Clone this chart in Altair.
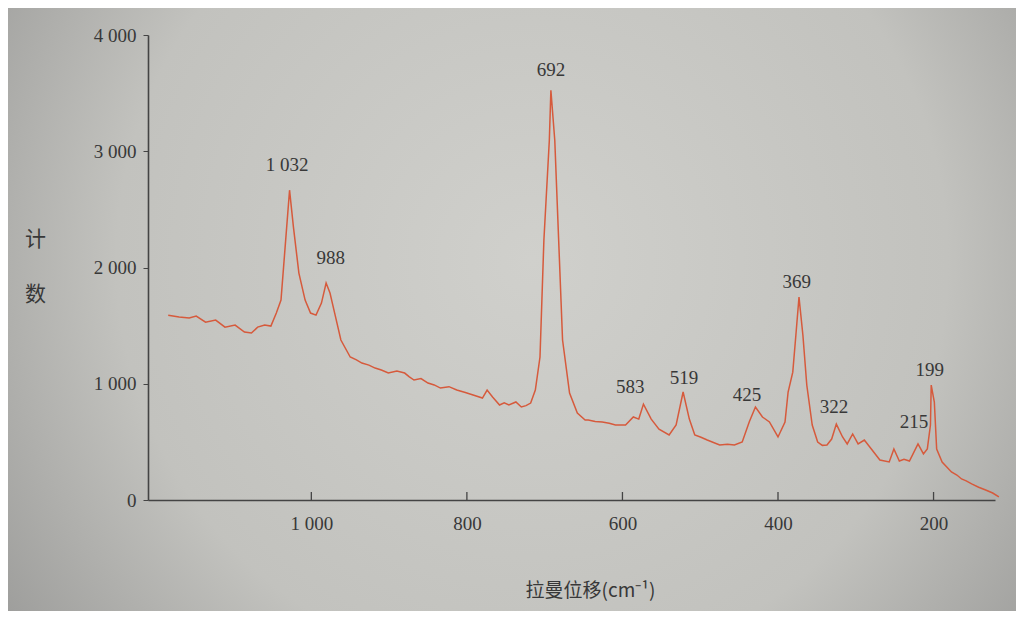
import altair as alt
import pandas as pd

# Raman shift (cm^-1) and counts
shift = [1184, 1170, 1157, 1148, 1136, 1123, 1111, 1098, 1086, 1077, 1069, 1060, 1052, 1045, 1039,
         1033, 1028, 1023, 1016, 1008, 1001, 994, 987, 981, 976, 970, 962, 950, 942, 935, 926, 918,
         910, 901, 890, 880, 874, 868, 859, 850, 842, 834, 823, 813, 802, 792, 780, 774, 767, 758,
         752, 746, 737, 730, 724, 718, 712, 706, 701, 694, 692,
         687, 682, 677, 668, 658, 648, 644, 635, 626, 617, 609, 596, 586, 579, 573, 563, 553, 540,
         531, 522, 514, 507, 499, 491, 483, 475, 465, 456, 446, 437, 429, 420, 411, 400, 391, 387,
         381, 377, 373, 368, 363, 356, 349, 343, 337, 331, 325, 317, 311, 304, 297, 289, 280, 269,
         257, 251, 244, 238, 231, 220, 213, 208, 204, 203, 199, 196, 189, 177, 170, 164, 158, 151,
         142, 133, 124, 116]
counts = [1590, 1574, 1565, 1582, 1530, 1548, 1487, 1505, 1445, 1436, 1487, 1505, 1496, 1608, 1720,
          2235, 2665, 2347, 1952, 1720, 1608, 1590, 1694, 1866, 1780, 1608, 1376, 1230, 1205, 1178,
          1160, 1135, 1118, 1092, 1110, 1092, 1060, 1032, 1045, 1006, 990, 963, 975, 946, 925, 903,
          877, 946, 886, 817, 835, 817, 843, 800, 812, 834, 946, 1230, 2235, 3095, 3525,
          3095, 2235, 1376, 920, 748, 688, 688, 675, 671, 660, 645, 645, 714, 696, 825, 696, 610,
          559, 645, 929, 696, 559, 540, 516, 495, 473, 480, 473, 499, 671, 800, 714, 671, 542, 671,
          929, 1100, 1419, 1745, 1419, 989, 645, 499, 470, 473, 524, 653, 542, 482, 568, 482, 516,
          439, 344, 327, 439, 335, 350, 335, 482, 396, 439, 645, 989, 843, 439, 327, 241, 215, 181,
          165, 138, 110, 86, 60, 26]

# Peak annotations (label anchor in data units)
peak_text = ["1 032", "988", "692", "583", "519", "425", "369", "322", "215", "199"]
peak_x = [1031, 975, 692, 590, 521, 440, 376, 328, 225, 205]
peak_y = [2880, 2080, 3700, 975, 1050, 905, 1875, 800, 670, 1120]

x_ticks = [1000, 800, 600, 400, 200]
y_ticks = [0, 1000, 2000, 3000, 4000]

W, H = 847, 465
SERIF = "Liberation Serif"
CJK = "Noto Sans CJK SC"
TXT = "#383838"

spec = pd.DataFrame({"shift": shift, "counts": counts})
ann = pd.DataFrame({"x": peak_x, "y": peak_y, "t": peak_text})
tk = pd.DataFrame({"x": x_ticks})

num_expr = "replace(format(datum.value, ','), ',', ' ')"

xscale = alt.Scale(domain=[121, 1210], reverse=True, nice=False, zero=False)
yscale = alt.Scale(domain=[0, 4000], nice=False)

xaxis = alt.Axis(values=x_ticks, labelExpr=num_expr, ticks=False, grid=False,
                 labelFont=SERIF, labelFontSize=19, labelColor=TXT, labelPadding=14,
                 domainColor="#444444", domainWidth=1.6, zindex=1,
                 title="拉曼位移(cm⁻¹)", titleFont=CJK, titleFontSize=19, titleFontWeight="normal",
                 titleColor=TXT, titleX=442, titleY=90, titleBaseline="middle", titleAlign="center")
yaxis = alt.Axis(values=y_ticks, labelExpr=num_expr, grid=False, tickSize=5, tickColor="#444444",
                 labelFont=SERIF, labelFontSize=19, labelColor=TXT, labelPadding=7,
                 domainColor="#444444", domainWidth=1.6, zindex=1,
                 title=["计", "数"], titleFont=CJK, titleFontSize=21, titleFontWeight="normal",
                 titleColor=TXT, titleAngle=0, titleX=-113, titleY=193, titleBaseline="top",
                 titleAlign="center", titleLineHeight=55)

bg = alt.Chart(alt.Data(values=[{"a": 1}])).mark_rect(
    fill={"gradient": "radial", "x1": 0.52, "y1": 0.45, "r1": 0,
          "x2": 0.52, "y2": 0.45, "r2": 0.75,
          "stops": [{"offset": 0, "color": "#d0d0cc"},
                    {"offset": 0.55, "color": "#c2c2be"},
                    {"offset": 1, "color": "#8a8a89"}]}
).encode(x=alt.value(-140), x2=alt.value(W + 21), y=alt.value(-27), y2=alt.value(H + 111))

line = alt.Chart(spec).mark_line(color="#d65a3c", strokeWidth=1.5).encode(
    x=alt.X("shift:Q", scale=xscale, axis=xaxis),
    y=alt.Y("counts:Q", scale=yscale, axis=yaxis),
)

ticks = alt.Chart(tk).mark_rule(color="#444444", strokeWidth=1.3).encode(
    x=alt.X("x:Q", scale=xscale),
    y=alt.value(H), y2=alt.value(H - 8),
)

labels = alt.Chart(ann).mark_text(font=SERIF, fontSize=19, color=TXT, baseline="middle",
                                  align="center").encode(
    x=alt.X("x:Q", scale=xscale),
    y=alt.Y("y:Q", scale=yscale),
    text="t:N",
)

chart = alt.layer(bg, line, ticks, labels).properties(
    width=W, height=H,
    autosize=alt.AutoSizeParams(type="none"),
    padding={"left": 140, "top": 27, "right": 21, "bottom": 111},
    background="#b2b2ae",
).configure_view(stroke="#505050", strokeWidth=1.3)

chart.save("out.html", embed_options={"renderer": "svg", "actions": False})
